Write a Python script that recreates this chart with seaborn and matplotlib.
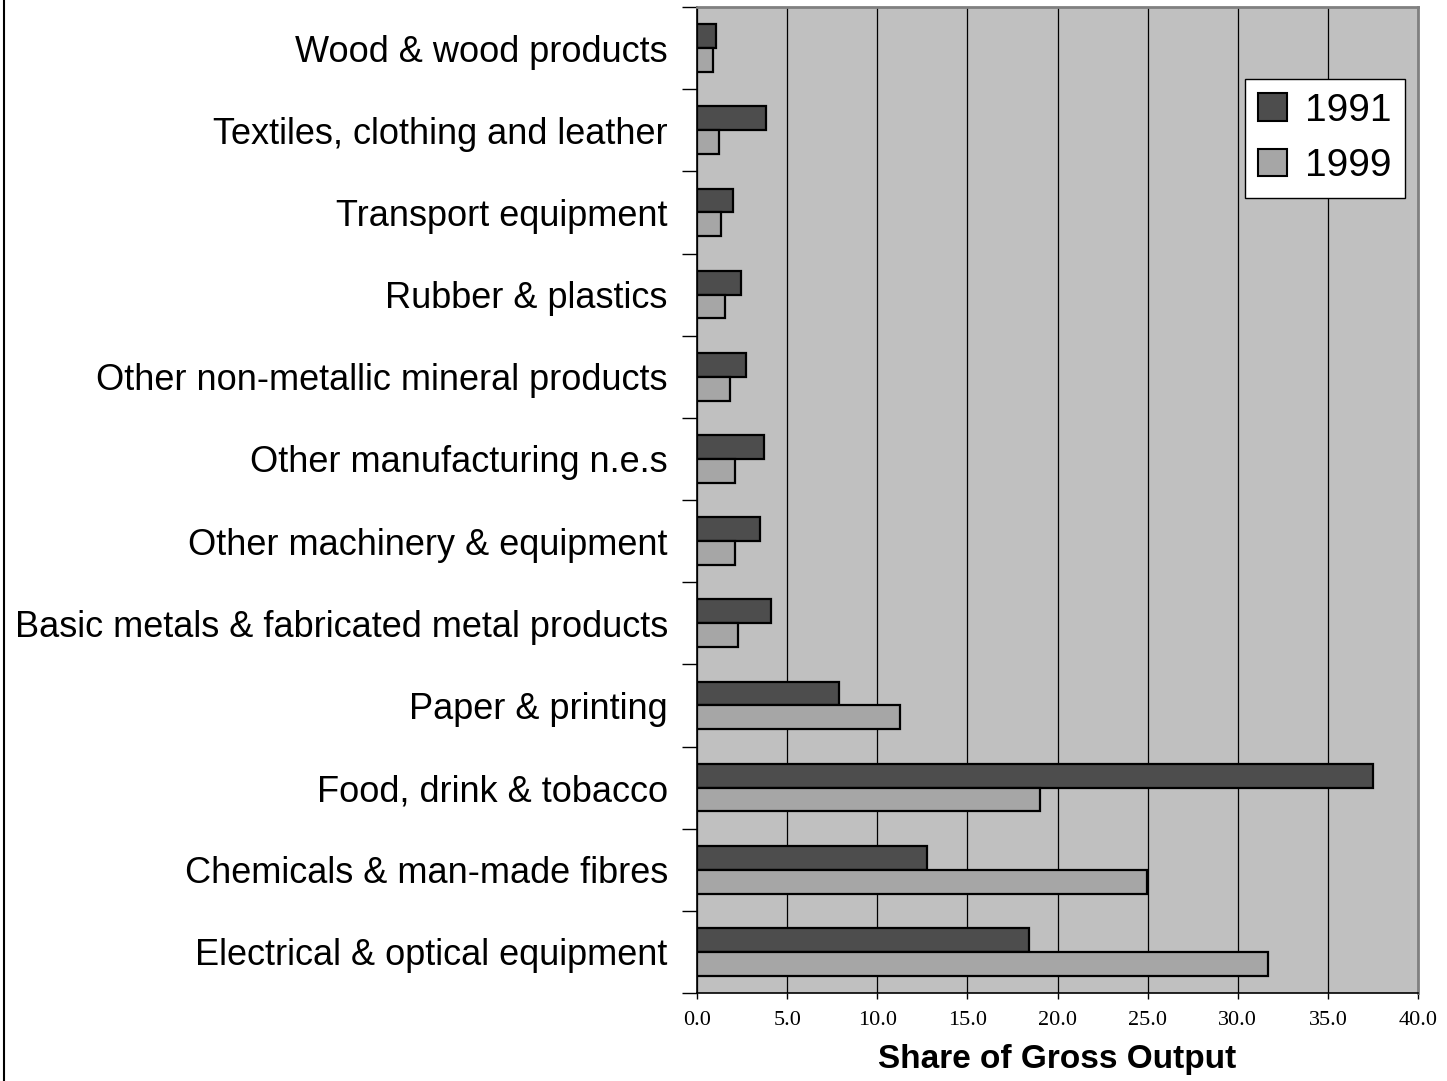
"""
Share of gross output by manufacturing sector, 1991 vs 1999
"""
import matplotlib
matplotlib.use("Agg")
import matplotlib.pyplot as plt
from matplotlib.lines import Line2D
import numpy as np
import pandas as pd
import seaborn as sns


SECTORS = [
    "Wood & wood products",
    "Textiles, clothing and leather",
    "Transport equipment",
    "Rubber & plastics",
    "Other non-metallic mineral products",
    "Other manufacturing n.e.s",
    "Other machinery & equipment",
    "Basic metals & fabricated metal products",
    "Paper & printing",
    "Food, drink & tobacco",
    "Chemicals & man-made fibres",
    "Electrical & optical equipment",
]
SHARE_1991 = [1.05, 3.8, 2.0, 2.45, 2.7, 3.7, 3.5, 4.1, 7.9, 37.5, 12.75, 18.4]
SHARE_1999 = [0.9, 1.2, 1.35, 1.55, 1.85, 2.1, 2.1, 2.3, 11.25, 19.0, 24.95, 31.7]
YEARS = ["1991", "1999"]
X_TICKS = [0, 5, 10, 15, 20, 25, 30, 35, 40]

YEAR_COLORS = {"1991": "#4d4d4d", "1999": "#a6a6a6"}


df = pd.concat([
    pd.DataFrame({"sector": SECTORS, "share": SHARE_1991, "year": YEARS[0]}),
    pd.DataFrame({"sector": SECTORS, "share": SHARE_1999, "year": YEARS[1]}),
])

sns.set_style("white")
plt.rcParams["font.family"] = ["Liberation Sans", "DejaVu Sans"]
plt.rcParams["text.color"] = "black"
plt.rcParams["xtick.color"] = "black"
plt.rcParams["ytick.color"] = "black"
plt.rcParams["axes.labelcolor"] = "black"

fig = plt.figure(figsize=(14.47, 10.81), dpi=100)
ax = fig.add_axes([0.4817, 0.0814, 0.98 - 0.4817, 0.9935 - 0.0814])

sns.barplot(
    data=df,
    x="share",
    y="sector",
    hue="year",
    order=SECTORS,
    hue_order=YEARS,
    palette=YEAR_COLORS,
    width=0.58,
    edgecolor="black",
    linewidth=1.6,
    saturation=1,
    ax=ax,
)

ax.set_facecolor("#c0c0c0")
ax.set_xlim(0, 40)
ax.set_ylim(len(SECTORS) - 0.5, -0.5)

# vertical grid lines
ax.set_xticks(X_TICKS)
ax.set_xticklabels([f"{t:.1f}" for t in X_TICKS],
                   fontfamily="Liberation Serif", fontsize=16)
ax.xaxis.grid(True, color="black", linewidth=0.9)
ax.set_axisbelow(True)
ax.tick_params(axis="x", direction="out", length=4, width=1, pad=9, bottom=True)

# category labels, tick marks at the boundaries between categories
ax.set_yticks(np.arange(len(SECTORS)))
ax.set_yticklabels(SECTORS, fontsize=26)
ax.set_yticks(np.arange(len(SECTORS) + 1) - 0.5, minor=True)
ax.tick_params(axis="y", which="major", length=0, pad=21)
ax.tick_params(axis="y", which="minor", direction="out", length=11, width=1,
               color="black", left=True)

ax.set_ylabel("")
ax.set_xlabel("Share of Gross Output", fontsize=24, fontweight="bold", labelpad=10)

for side in ["left", "bottom"]:
    ax.spines[side].set_color("black")
    ax.spines[side].set_linewidth(1.2)
for side in ["top", "right"]:
    ax.spines[side].set_color("#808080")
    ax.spines[side].set_linewidth(2)

leg = ax.legend(
    loc="upper right",
    bbox_to_anchor=(0.982, 0.927),
    fontsize=28,
    frameon=True,
    fancybox=False,
    edgecolor="black",
    framealpha=1,
    handlelength=0.75,
    handleheight=0.7,
    handletextpad=0.45,
    borderpad=0.35,
    labelspacing=0.5,
    borderaxespad=0,
)
leg.get_frame().set_linewidth(1)
for h in leg.legend_handles:
    h.set_linewidth(1.5)

# thin border on the left edge of the figure
fig.add_artist(Line2D([0.0025, 0.0025], [0, 1], transform=fig.transFigure,
                      color="black", linewidth=1.5))

fig.savefig("out.png", dpi=100)
